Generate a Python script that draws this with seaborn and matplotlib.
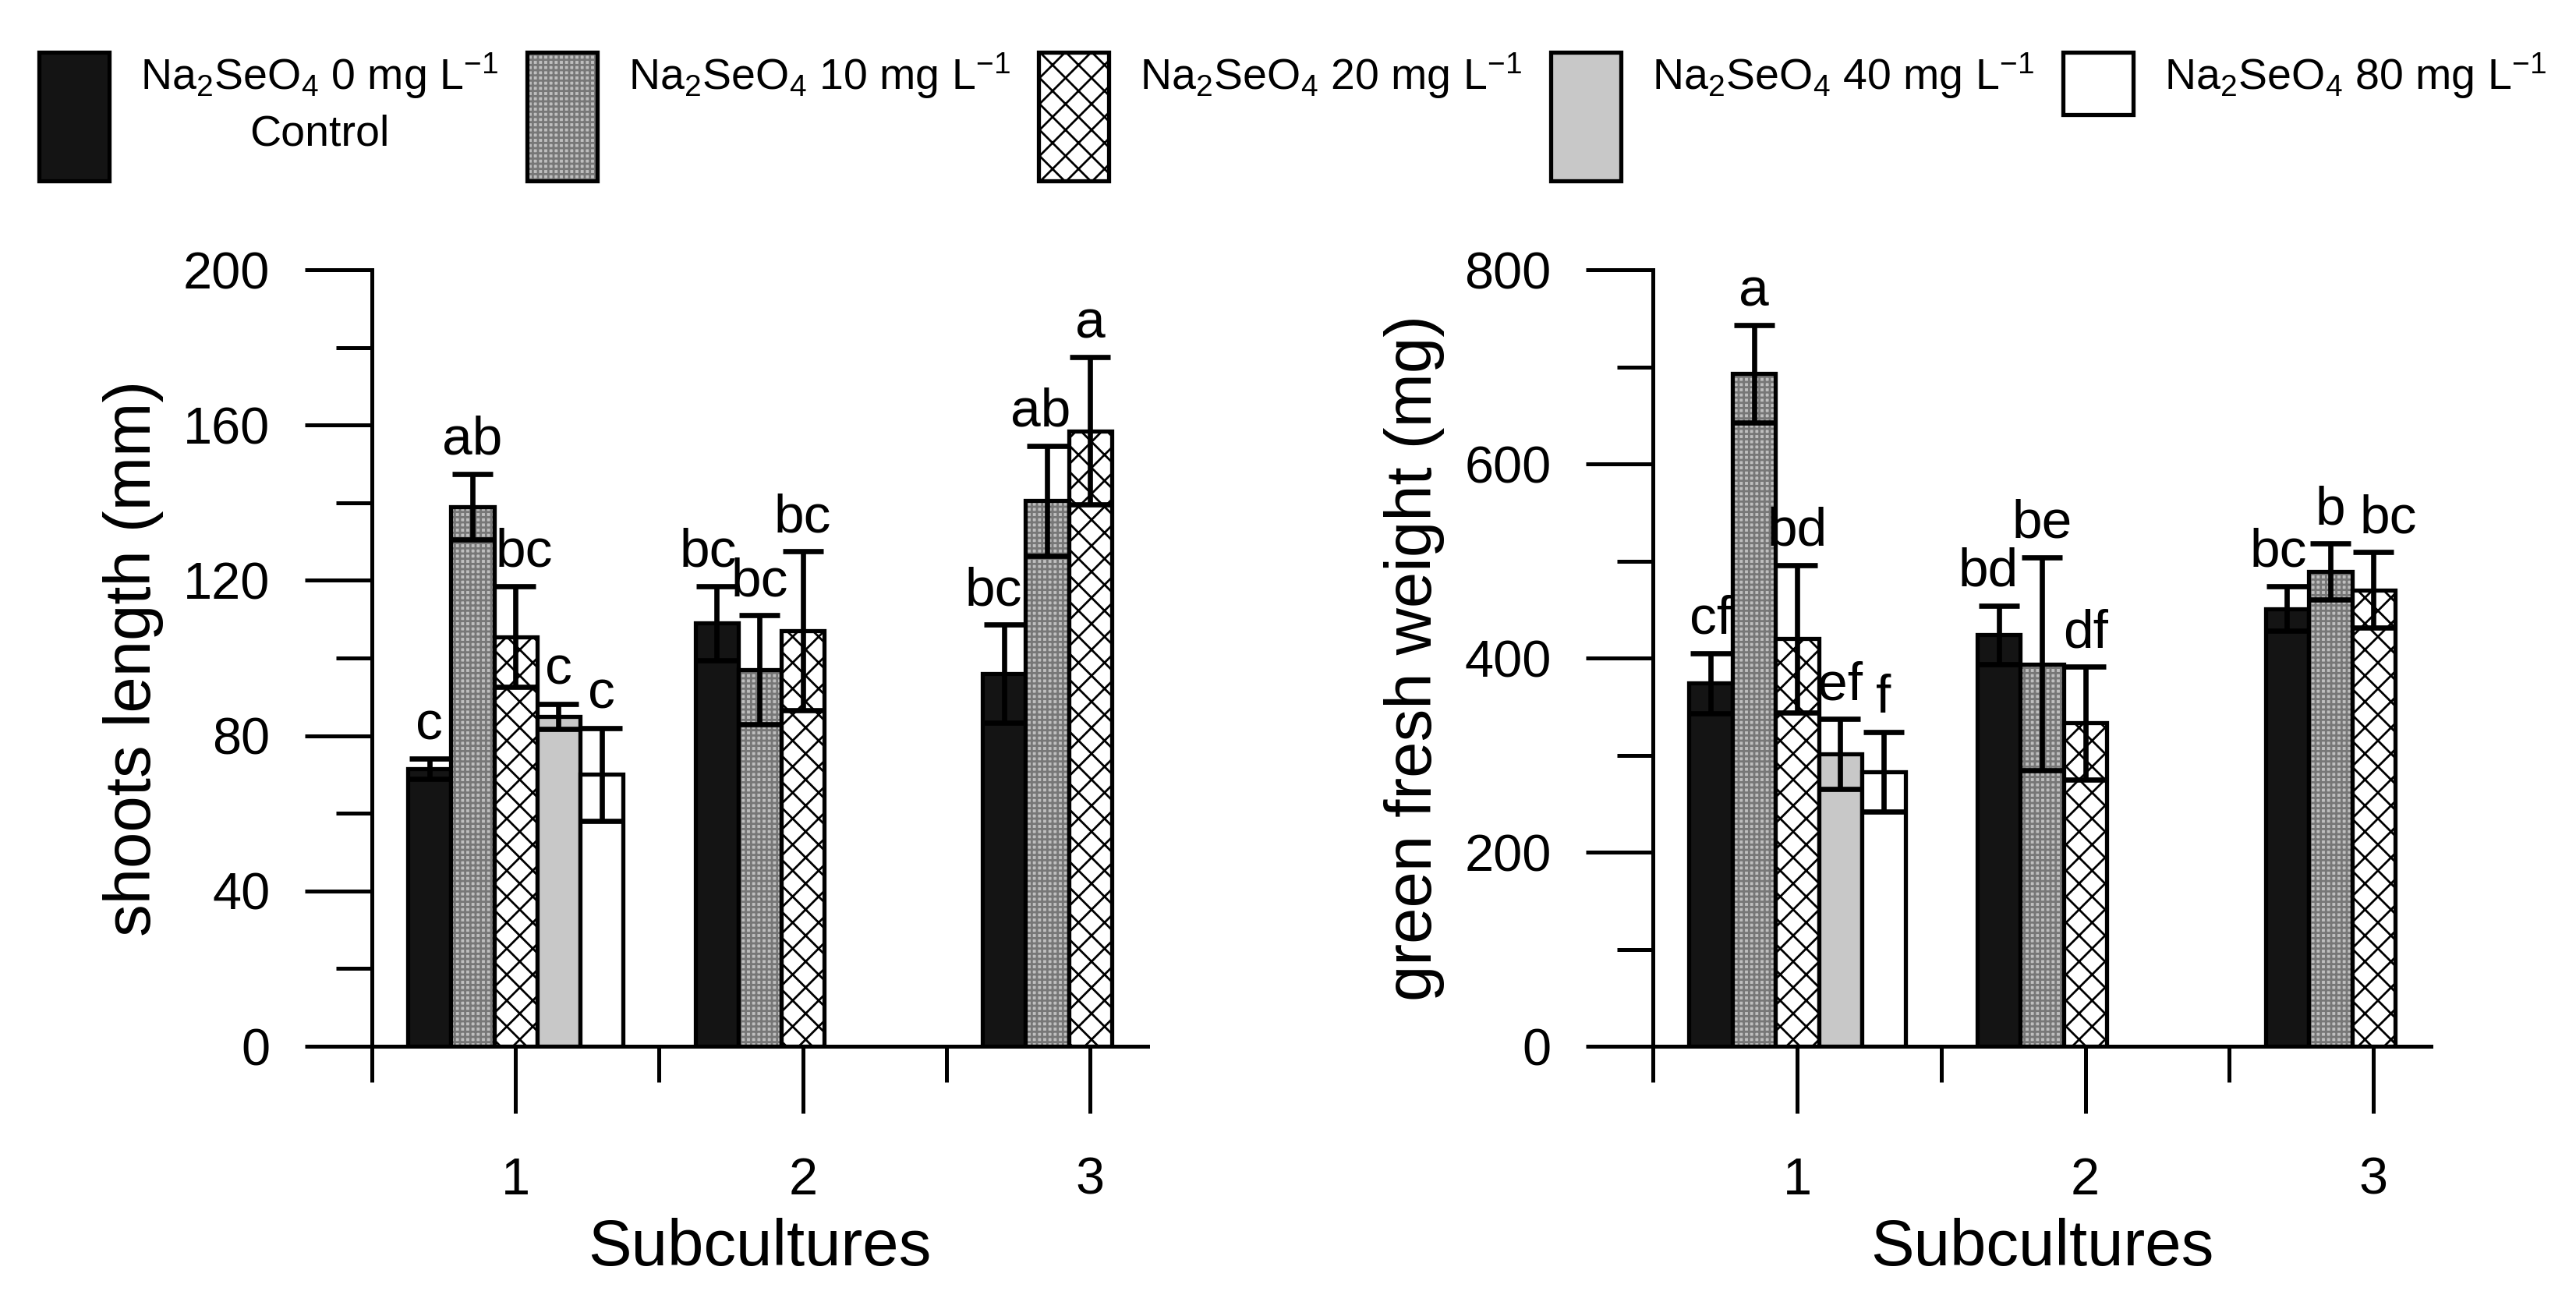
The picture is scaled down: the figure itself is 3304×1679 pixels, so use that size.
import matplotlib
matplotlib.use("Agg")
import matplotlib.pyplot as plt
import matplotlib.patches as mpatches
from matplotlib.colors import to_rgba
from matplotlib.legend_handler import HandlerPatch
from matplotlib.ticker import MultipleLocator
import pandas as pd
import seaborn as sns

subcultures = ['1', '2', '3']
doses = ['0', '10', '20', '40', '80']

# shoots length (mm): mean, SD and letters per subculture (dose order)
shoot_1 = [71.5, 139, 105.5, 85, 70]
shoot_2 = [109, 97, 107]
shoot_3 = [96, 140.5, 158.5]
shoot_sd_1 = [2.6, 8.4, 13, 3.2, 12]
shoot_sd_2 = [9.5, 14, 20.5]
shoot_sd_3 = [12.6, 14.2, 19]
shoot_let_1 = ['c', 'ab', 'bc', 'c', 'c']
shoot_let_2 = ['bc', 'bc', 'bc']
shoot_let_3 = ['bc', 'ab', 'a']

# green fresh weight (mg)
fresh_1 = [374, 693, 420, 301, 283]
fresh_2 = [424, 394, 333]
fresh_3 = [451, 489, 470]
fresh_sd_1 = [31, 50, 76, 36, 41]
fresh_sd_2 = [30, 110, 58]
fresh_sd_3 = [23, 29, 39]
fresh_let_1 = ['cf', 'a', 'bd', 'ef', 'f']
fresh_let_2 = ['bd', 'be', 'df']
fresh_let_3 = ['bc', 'b', 'bc']

fills = {'0': '#141414', '10': '#bfbfbf', '20': 'white', '40': '#c8c8c8', '80': 'white'}
hatches = {'0': '', '10': '+++++', '20': 'xx', '40': '', '80': ''}
hatch_colors = {'0': 'black', '10': '#777777', '20': 'black', '40': 'black', '80': 'black'}

# small sideways shifts (points) of some letters, to keep them apart
shoot_nudge = {('1', '20'): 4, ('2', '0'): -4, ('3', '0'): -5, ('3', '10'): -3}
fresh_nudge = {('2', '0'): -5, ('3', '0'): -4, ('3', '20'): 7}

sns.set_theme(style='ticks', rc={'text.color': 'black', 'axes.labelcolor': 'black',
                                 'xtick.color': 'black', 'ytick.color': 'black',
                                 'axes.edgecolor': 'black'})
plt.rcParams['font.family'] = ['Liberation Sans', 'DejaVu Sans']
plt.rcParams['mathtext.fontset'] = 'custom'
plt.rcParams['mathtext.rm'] = 'Liberation Sans'
plt.rcParams['mathtext.it'] = 'Liberation Sans:italic'
plt.rcParams['mathtext.bf'] = 'Liberation Sans:bold'
plt.rcParams['hatch.linewidth'] = 1.0
plt.rcParams['axes.linewidth'] = 1.8


def set_hatch_color(patch, color):
    # keep black outlines while the hatch gets its own colour
    if hasattr(patch, 'set_hatchcolor'):
        patch.set_hatchcolor(color)
    else:
        patch._hatch_color = to_rgba(color)


def make_df(means, sds, lets):
    rows = []
    for sub, m, s, l in zip(subcultures, means, sds, lets):
        for dose, mv, sv, lv in zip(doses, m, s, l):
            rows.append(dict(sub=sub, dose=dose, mean=mv, sd=sv, letter=lv))
    return pd.DataFrame(rows)


shoot_df = make_df([shoot_1, shoot_2, shoot_3],
                   [shoot_sd_1, shoot_sd_2, shoot_sd_3],
                   [shoot_let_1, shoot_let_2, shoot_let_3])
fresh_df = make_df([fresh_1, fresh_2, fresh_3],
                   [fresh_sd_1, fresh_sd_2, fresh_sd_3],
                   [fresh_let_1, fresh_let_2, fresh_let_3])


def draw(ax, df, ymax, step, ylabel, nudge):
    sns.barplot(data=df, x='sub', y='mean', hue='dose', order=subcultures,
                hue_order=doses, palette=fills, errorbar=None, width=0.75,
                edgecolor='black', linewidth=1.9, legend=False, ax=ax, zorder=2)
    bars = list(ax.containers)[:len(doses)]
    for dose, cont in zip(doses, bars):
        for bar in cont:
            bar.set_hatch(hatches[dose])
            set_hatch_color(bar, hatch_colors[dose])
            xc = bar.get_x() + bar.get_width() / 2
            sub = subcultures[round(xc)]
            row = df[(df['sub'] == sub) & (df['dose'] == dose)].iloc[0]
            top = bar.get_height()
            ax.errorbar(xc, top, yerr=row['sd'], fmt='none', ecolor='black',
                        elinewidth=2.4, capsize=9.5, capthick=2.4, zorder=3)
            ax.annotate(row['letter'], (xc, top + row['sd']),
                        xytext=(nudge.get((sub, dose), 0), 9),
                        textcoords='offset points', ha='center', va='baseline',
                        fontsize=25)
    ax.set_xlim(-0.5, 2.2)
    ax.set_ylim(0, ymax)
    ax.yaxis.set_major_locator(MultipleLocator(step))
    ax.yaxis.set_minor_locator(MultipleLocator(step / 2))
    ax.set_xticks([0, 1, 2], subcultures)
    ax.set_xticks([-0.5, 0.5, 1.5], minor=True)
    ax.tick_params(which='major', length=31, width=1.8, color='black',
                   labelsize=24, direction='out')
    ax.tick_params(which='minor', length=16.5, width=1.8, color='black',
                   direction='out')
    ax.tick_params(axis='y', which='major', pad=16)
    ax.tick_params(axis='x', which='major', pad=20)
    sns.despine(ax=ax)
    ax.set_ylabel(ylabel, fontsize=30, labelpad=9)
    ax.set_xlabel('Subcultures', fontsize=30, labelpad=6)


fig = plt.figure(figsize=(16.525, 8.395), dpi=200)
ax1 = fig.add_axes([0.1443, 0.2007, 0.3011, 0.5932])
ax2 = fig.add_axes([0.6415, 0.2007, 0.302, 0.5932])
draw(ax1, shoot_df, 200, 40, 'shoots length (mm)', shoot_nudge)
draw(ax2, fresh_df, 800, 200, 'green fresh weight (mg)', fresh_nudge)


def legend_box(legend, orig_handle, xdescent, ydescent, width, height, fontsize):
    h = 28.8 if orig_handle.get_gid() == '80' else 59.4
    top = 1.53 * fontsize
    return mpatches.Rectangle((-xdescent, top - h), width, h)


handles = []
for d in doses:
    p = mpatches.Patch(facecolor=fills[d], edgecolor='black', linewidth=1.9,
                       hatch=hatches[d], gid=d)
    set_hatch_color(p, hatch_colors[d])
    handles.append(p)
labels = ['Na$_2$SeO$_4$ 0 mg L$^{-1}$\nControl'] + \
         [f'Na$_2$SeO$_4$ {d} mg L$^{{-1}}$\n ' for d in doses[1:]]
leg = fig.legend(handles, labels, handler_map={mpatches.Patch: HandlerPatch(patch_func=legend_box)},
                 loc='upper left', bbox_to_anchor=(0.0151, 0.961), ncol=5,
                 frameon=False, fontsize=20, handlelength=1.62, handleheight=0.7,
                 handletextpad=0.72, columnspacing=0.66, borderpad=0, borderaxespad=0)
for t in leg.get_texts():
    t.set_multialignment('center')
    t.set_linespacing(1.44)

fig.savefig('out.png', dpi=200)
